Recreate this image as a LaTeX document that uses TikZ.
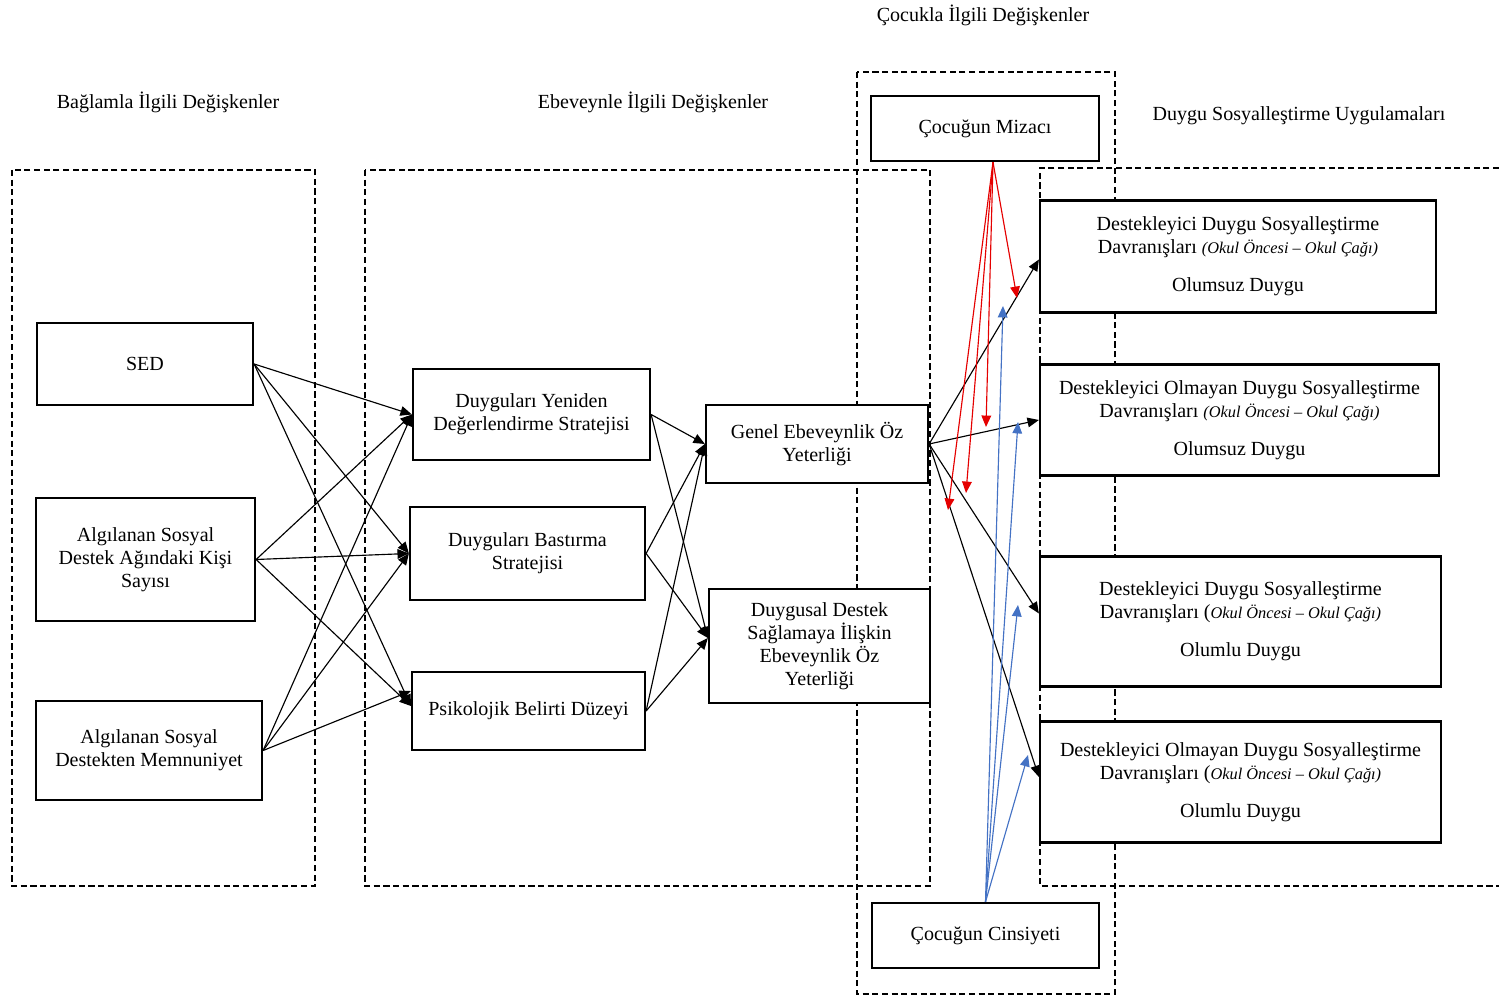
\documentclass[tikz,border=0pt]{standalone}
\usepackage{fontspec}
\setmainfont{Liberation Serif}
\usetikzlibrary{arrows.meta}
\newcommand{\okul}{{\fontsize{9.3}{11}\selectfont\itshape Okul Öncesi -- Okul Çağı)}}

\begin{document}
\begin{tikzpicture}[x=0.02cm,y=-0.02cm,
        font=\fontsize{11.4}{13.1}\selectfont,
        box/.style={draw,line width=1.3pt,fill=white,align=center,inner sep=2pt},
        grp/.style={line width=1.1pt,dash pattern=on 3.5pt off 2pt},
        arr/.style={line width=0.65pt,-{Triangle[length=6.5pt,width=5.5pt]}},
        redarr/.style={arr,red!90!black},
        bluearr/.style={arr,color={rgb,255:red,68;green,114;blue,196}}]
        \useasboundingbox (0,0) rectangle (1499,996);

        % groups
        \draw[grp] (12,170) rectangle (315,886);
        \draw[grp] (365,170) rectangle (930,886);
        \draw[grp] (857,72) rectangle (1115,994);
        \draw[grp] (1499,168) -- (1040,168) -- (1040,886) -- (1499,886);

        \node at (168,102) {Bağlamla İlgili Değişkenler};
        \node at (653,102) {Ebeveynle İlgili Değişkenler};
        \node at (983,15) {Çocukla İlgili Değişkenler};
        \node at (1299,116) {Duygu Sosyalleştirme Uygulamaları};

        % context
        \node[box,minimum width=4.32cm,minimum height=1.64cm] (sed) at (145,364) {SED};
        \node[box,minimum width=4.38cm,minimum height=2.46cm] (kisi) at (145.5,559.5) {Algılanan Sosyal\\Destek Ağındaki Kişi\\Sayısı};
        \node[box,minimum width=4.52cm,minimum height=1.98cm] (memnun) at (149,750.5) {Algılanan Sosyal\\Destekten Memnuniyet};

        % parent
        \node[box,minimum width=4.74cm,minimum height=1.82cm] (yeniden) at (531.5,414.5) {Duyguları Yeniden\\Değerlendirme Stratejisi};
        \node[box,minimum width=4.70cm,minimum height=1.86cm] (bastirma) at (527.5,553.5) {Duyguları Bastırma\\Stratejisi};
        \node[box,minimum width=4.66cm,minimum height=1.56cm] (belirti) at (528.5,711) {Psikolojik Belirti Düzeyi};
        \node[box,minimum width=4.44cm,minimum height=1.56cm] (genel) at (817,444) {Genel Ebeveynlik Öz\\Yeterliği};
        \node[box,minimum width=4.42cm,minimum height=2.28cm] (duygusal) at (819.5,646) {Duygusal Destek\\Sağlamaya İlişkin\\Ebeveynlik Öz\\Yeterliği};

        % child
        \node[box,minimum width=4.56cm,minimum height=1.3cm] (mizac) at (985,128.5) {Çocuğun Mizacı};
        \node[box,minimum width=4.54cm,minimum height=1.3cm] (cinsiyet) at (985.5,935.5) {Çocuğun Cinsiyeti};

        % practices
        \node[box,minimum width=7.92cm,minimum height=2.24cm] (dolumsuz) at (1238,256.5) {Destekleyici Duygu Sosyalleştirme\\Davranışları {\fontsize{9.3}{11}\selectfont\itshape(}\okul\\[0.3cm]Olumsuz Duygu};
        \node[box,minimum width=7.98cm,minimum height=2.22cm] (oolumsuz) at (1239.5,420) {Destekleyici Olmayan Duygu Sosyalleştirme\\Davranışları {\fontsize{9.3}{11}\selectfont\itshape(}\okul\\[0.3cm]Olumsuz Duygu};
        \node[box,minimum width=8.02cm,minimum height=2.6cm] (dolumlu) at (1240.5,621.5) {Destekleyici Duygu Sosyalleştirme\\Davranışları (\okul\\[0.3cm]Olumlu Duygu};
        \node[box,minimum width=8.02cm,minimum height=2.42cm] (oolumlu) at (1240.5,782) {Destekleyici Olmayan Duygu Sosyalleştirme\\Davranışları (\okul\\[0.3cm]Olumlu Duygu};

        % context -> parent
        \foreach \s in {sed,kisi,memnun} {
            \draw[arr] (\s.east) -- (yeniden.west);
            \draw[arr] (\s.east) -- (bastirma.west);
        }
        \draw[arr] (sed.east) -- ([yshift=0.1cm]belirti.west);
        \draw[arr] (kisi.east) -- ([yshift=0.1cm]belirti.west);
        \draw[arr] (memnun.east) -- ([yshift=0.4cm]belirti.west);

        % parent -> self-efficacy
        \foreach \s in {yeniden,bastirma,belirti} {
            \draw[arr] (\s.east) -- (genel.west);
            \draw[arr] (\s.east) -- ([yshift=0.16cm]duygusal.west);
        }

        % self-efficacy -> practices
        \draw[arr] (genel.east) -- ([yshift=-0.06cm]dolumsuz.west);
        \draw[arr] (genel.east) -- (oolumsuz.west);
        \draw[arr] (genel.east) -- ([yshift=0.16cm]dolumlu.west);
        \draw[arr] (genel.east) -- ([yshift=0.1cm]oolumlu.west);

        % moderators
        \coordinate (m1) at (1017,298);
        \coordinate (m2) at (986,427);
        \coordinate (m3) at (966,493);
        \coordinate (m4) at (948,510);
        \coordinate (c1) at (1003,306);
        \coordinate (c2) at (1018,422);
        \coordinate (c3) at (1018,605);
        \coordinate (c4) at (1028,755);
        \foreach \m in {m1,m2,m3,m4}
            \draw[redarr] ([xshift=0.16cm]mizac.south) -- (\m);
        \foreach \c in {c1,c2,c3,c4}
            \draw[bluearr] (cinsiyet.north) -- (\c);
    \end{tikzpicture}
\end{document}
